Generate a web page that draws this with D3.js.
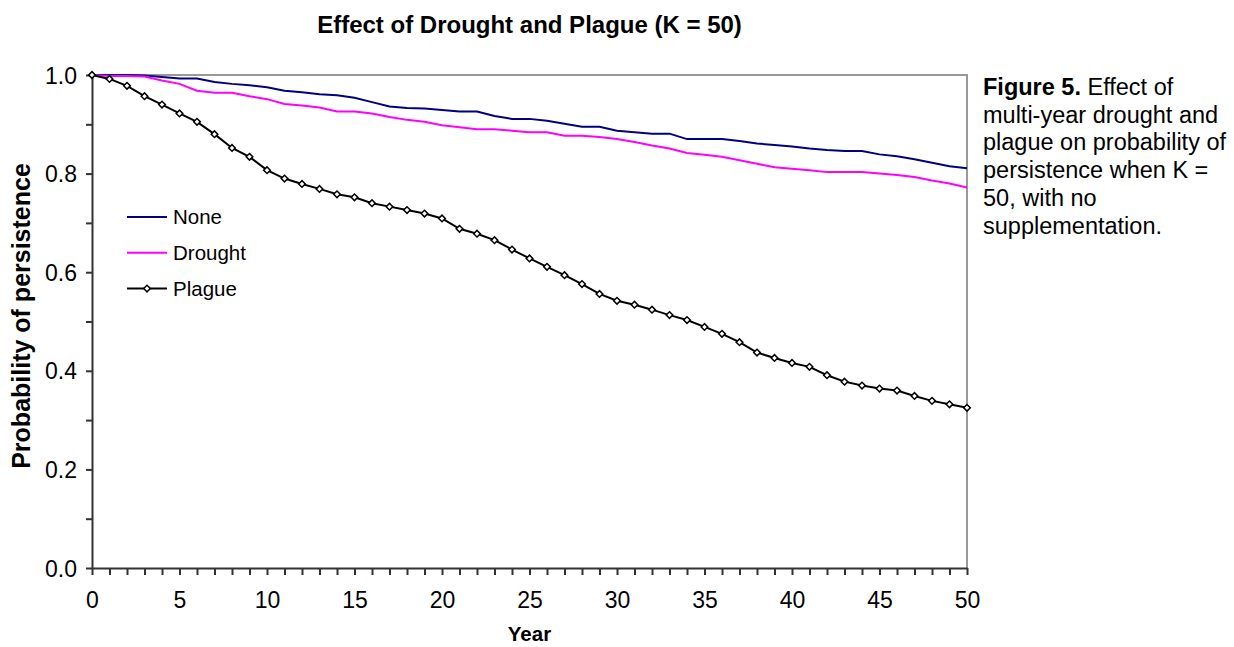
<!DOCTYPE html>
<html>
<head>
<meta charset="utf-8">
<script src="https://cdn.jsdelivr.net/npm/d3@7"></script>
<style>
  body { margin: 0; background: #fff; }
  svg { display: block; font-family: 'Liberation Sans', Arial, sans-serif; }
  .tick text { font-size: 23px; fill: #000; }
</style>
</head>
<body>
<script>
const years = d3.range(0, 51)

const none = [1.0, 1.0, 1.0, 0.999, 0.996, 0.993, 0.993, 0.986, 0.982, 0.979,
  0.975, 0.968, 0.965, 0.961, 0.959, 0.954, 0.945, 0.936, 0.933, 0.932,
  0.929, 0.926, 0.926, 0.917, 0.911, 0.911, 0.907, 0.901, 0.895, 0.895,
  0.887, 0.884, 0.881, 0.881, 0.870, 0.870, 0.870, 0.866, 0.861, 0.858,
  0.855, 0.851, 0.848, 0.846, 0.846, 0.839, 0.835, 0.829, 0.822, 0.815, 0.811]

const drought = [1.0, 0.998, 0.998, 0.997, 0.989, 0.982, 0.968, 0.964, 0.964, 0.957,
  0.951, 0.941, 0.938, 0.934, 0.926, 0.926, 0.922, 0.915, 0.909, 0.905,
  0.898, 0.894, 0.890, 0.890, 0.887, 0.884, 0.884, 0.877, 0.877, 0.874,
  0.870, 0.864, 0.857, 0.851, 0.842, 0.838, 0.834, 0.827, 0.820, 0.813,
  0.810, 0.807, 0.803, 0.803, 0.803, 0.800, 0.797, 0.793, 0.786, 0.780, 0.772]

const plague = [1.0, 0.992, 0.978, 0.957, 0.940, 0.922, 0.905, 0.880, 0.852, 0.834,
  0.807, 0.790, 0.779, 0.769, 0.758, 0.752, 0.740, 0.733, 0.726, 0.719,
  0.709, 0.688, 0.678, 0.665, 0.646, 0.628, 0.611, 0.594, 0.576, 0.556,
  0.542, 0.534, 0.524, 0.513, 0.503, 0.489, 0.475, 0.458, 0.437, 0.426,
  0.416, 0.408, 0.391, 0.378, 0.370, 0.364, 0.360, 0.349, 0.339, 0.332, 0.325]

const seriesNames = ['None', 'Drought', 'Plague']
const seriesColors = ['#000080', '#ff00ff', '#000000']
const xTickLabels = [0, 5, 10, 15, 20, 25, 30, 35, 40, 45, 50]
const yTickLabels = [0, 0.2, 0.4, 0.6, 0.8, 1.0]

const caption = [
  [['Figure 5.', true], [' Effect of', false]],
  [['multi-year drought and', false]],
  [['plague on probability of', false]],
  [['persistence when K =', false]],
  [['50, with no', false]],
  [['supplementation.', false]]
]

const width = 1234, height = 647
const margin = {left: 92, right: 267, top: 75, bottom: 79}

const svg = d3.select('body').append('svg')
    .attr('width', width)
    .attr('height', height)

const x = d3.scaleLinear().domain([0, 50]).range([margin.left, width - margin.right])
const y = d3.scaleLinear().domain([0, 1]).range([height - margin.bottom, margin.top])

// frame: gray top/right
svg.append('path')
    .attr('d', 'M' + x(0) + ',' + y(1) + 'H' + x(50) + 'V' + y(0))
    .attr('fill', 'none')
    .attr('stroke', '#999')
    .attr('stroke-width', 2)

// x axis, tick every year, labels every 5
const xAxis = d3.axisBottom(x)
    .tickValues(years)
    .tickSize(7)
    .tickSizeOuter(0)
    .tickFormat(d => xTickLabels.includes(d) ? d : '')

const gx = svg.append('g')
    .attr('transform', 'translate(0,' + y(0) + ')')
    .call(xAxis)
gx.selectAll('.tick text').attr('dy', null).attr('y', 40)

// y axis with minor ticks
const yAxis = d3.axisLeft(y)
    .tickValues(d3.range(0, 11).map(i => i / 10))
    .tickSize(6)
    .tickSizeOuter(0)
    .tickFormat(d => yTickLabels.some(t => Math.abs(t - d) < 1e-9) ? d3.format('.1f')(d) : '')

const gy = svg.append('g')
    .attr('transform', 'translate(' + x(0) + ',0)')
    .call(yAxis)
gy.selectAll('.tick text').attr('x', -15).attr('dy', '0.35em')

svg.selectAll('.domain, .tick line')
    .attr('stroke', '#333')
    .attr('stroke-width', 2)

// lines
const line = d3.line()
    .x((d, i) => x(years[i]))
    .y(d => y(d))

const allSeries = [none, drought, plague]
allSeries.forEach(function(s, i) {
  svg.append('path')
      .datum(s)
      .attr('fill', 'none')
      .attr('stroke', seriesColors[i])
      .attr('stroke-width', 2)
      .attr('d', line)
})

const diamond = d3.symbol().type(d3.symbolSquare).size(22)

svg.append('g').selectAll('path')
  .data(plague)
  .enter().append('path')
    .attr('d', diamond)
    .attr('transform', (d, i) => 'translate(' + x(years[i]) + ',' + y(d) + ') rotate(45)')
    .attr('fill', '#fff')
    .attr('stroke', '#000')
    .attr('stroke-width', 1.5)

// legend
const legend = svg.append('g')
    .attr('transform', 'translate(127,217)')

seriesNames.forEach(function(name, i) {
  const g = legend.append('g').attr('transform', 'translate(0,' + (i * 35.8) + ')')
  g.append('line')
      .attr('x1', 0).attr('x2', 40)
      .attr('stroke', seriesColors[i])
      .attr('stroke-width', 2)
  if (name === 'Plague') {
    g.append('path')
        .attr('d', diamond)
        .attr('transform', 'translate(20,0) rotate(45)')
        .attr('fill', '#fff')
        .attr('stroke', '#000')
        .attr('stroke-width', 1.5)
  }
  g.append('text')
      .attr('x', 46)
      .attr('y', 7)
      .attr('font-size', 20.5)
      .text(name)
})

// title and axis labels
svg.append('text')
    .attr('x', (x(0) + x(50)) / 2)
    .attr('y', 33)
    .attr('text-anchor', 'middle')
    .attr('font-size', 24)
    .attr('font-weight', 'bold')
    .text('Effect of Drought and Plague (K = 50)')

svg.append('text')
    .attr('x', (x(0) + x(50)) / 2)
    .attr('y', 641)
    .attr('text-anchor', 'middle')
    .attr('font-size', 20.5)
    .attr('font-weight', 'bold')
    .text('Year')

svg.append('text')
    .attr('transform', 'translate(30,316) rotate(-90)')
    .attr('text-anchor', 'middle')
    .attr('font-size', 25)
    .attr('font-weight', 'bold')
    .text('Probability of persistence')

// caption on the right
const cap = svg.append('text')
    .attr('font-size', 23.5)
caption.forEach(function(parts, i) {
  parts.forEach(function(p, j) {
    const t = cap.append('tspan')
        .attr('font-weight', p[1] ? 'bold' : 'normal')
        .text(p[0])
    if (j === 0) t.attr('x', 983).attr('y', 95 + i * 27.7)
  })
})
</script>
</body>
</html>
